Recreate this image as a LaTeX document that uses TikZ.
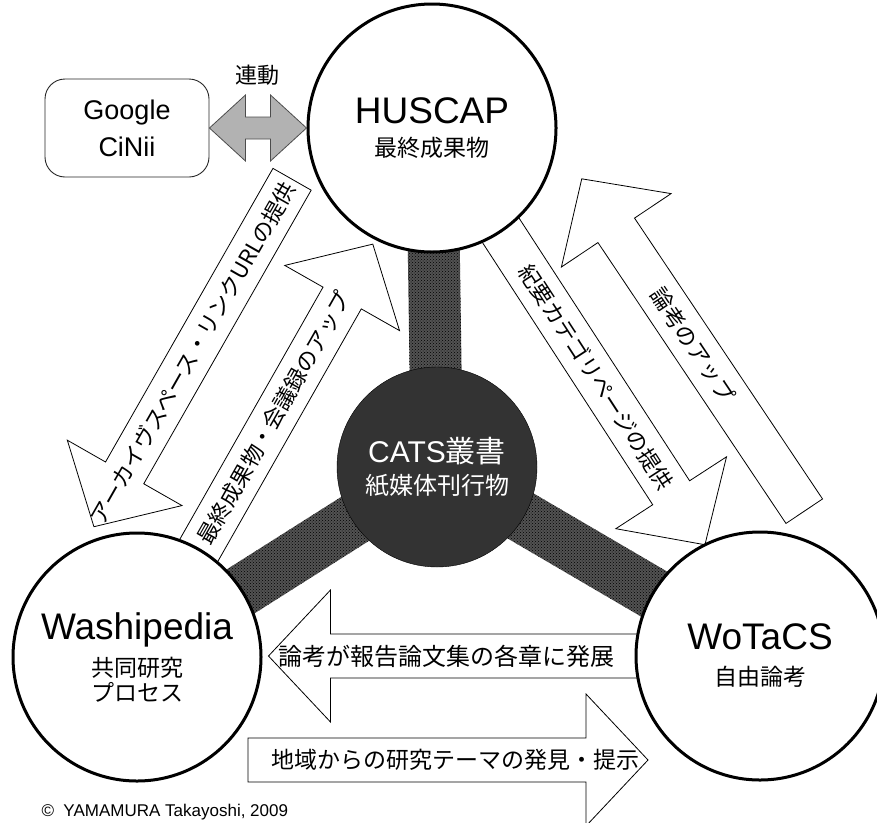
\documentclass[tikz,border=0pt]{standalone}
\usepackage{fontspec}
\setmainfont{Noto Sans CJK JP}
\newfontfamily\lat{Liberation Sans}
\usetikzlibrary{positioning, calc, patterns, backgrounds}

\newcommand{\headtxt}[1]{{\lat\fontsize{37}{40}\selectfont #1}}
\newcommand{\coretxt}[1]{{\fontsize{30}{32}\selectfont #1}}

\begin{document}
\begin{tikzpicture}
[
    x=1pt, y=-1pt,
    % all coordinates are pixels of the page, y running downwards
    hub/.style  = {circle, draw, line width=3pt, fill=white, minimum size=248pt,
                   inner sep=0pt, align=center, font=\fontsize{23}{25}\selectfont},
    core/.style = {circle, draw, thin, fill=black!80, text=white, minimum size=200pt,
                   inner sep=0pt, align=center, font=\fontsize{24}{32}\selectfont},
    ext/.style  = {draw=black!85, line width=0.9pt, rounded corners=20pt, minimum width=164pt,
                   minimum height=98pt, align=center, font=\lat\fontsize{27}{37}\selectfont},
    link/.style = {draw=black!70, fill=black!30, line width=0.8pt},
    bar/.style  = {preaction={fill=black!68}, pattern=crosshatch dots, pattern color=black},
    blk/.style  = {draw, fill=white, line width=0.8pt}
]
\useasboundingbox (0,0) rectangle (877,822);

%=================================== Nodes ===================================
\node[hub]  (hus)    at (432,128) {\headtxt{HUSCAP}\\[8pt]最終成果物};
\node[hub]  (washi)  at (137,657) {\headtxt{Washipedia}\\[9pt]共同研究\\プロセス};
\node[hub]  (wotacs) at (760,656) {\headtxt{WoTaCS}\\[11pt]自由論考};
\node[core] (cats)   at (437,467) {\coretxt{\lat CATS}\coretxt{叢書}\\紙媒体刊行物};
\node[ext]  (gc)     at (127,128) {Google\\CiNii};

% the grey double arrow between the search services and HUSCAP
\draw[link] (gc.east) -- ++(36,-33) -- ++(0,22) -- ($(hus.west)+(-36,-11)$) -- ++(0,-22)
    -- (hus.west) -- ++(-36,33) -- ++(0,-22) -- ($(gc.east)+(36,11)$) -- ++(0,22) -- cycle;
\node (sync) at (257,75) {\fontsize{22}{24}\selectfont 連動};

\node[anchor=west, font=\lat\fontsize{17}{20}\selectfont] (copy) at (38,812)
    {©\ \ YAMAMURA Takayoshi, 2009};

%================================ Background =================================
\begin{scope}[on background layer]
    % hatched spokes from the centre to each hub
    \foreach \t in {hus, washi, wotacs}
        \fill[bar] ($(cats.center)!26pt!90:(\t.center)$) -- ($(\t.center)!26pt!-90:(cats.center)$)
            -- ($(\t.center)!26pt!90:(cats.center)$) -- ($(cats.center)!26pt!-90:(\t.center)$) -- cycle;

    % block arrows: centre x / centre y / angle / length / tip side / text shift / size / text
    \foreach \x/\y/\a/\l/\d/\s/\f/\t [count=\i] in {
        193/353/60.3/400/-1/0/22/アーカイヴスペース・リンクURLの提供,
        274/418/60.4/400/1/0/22/最終成果物・会議録のアップ,
        596/377/-57/400/1/0/22/紀要カテゴリページの提供,
        693/345/-56.2/400/-1/0/22/論考のアップ,
        484/656/0/431/-1/-38/24/論考が報告論文集の各章に発展,
        448/760/0/400/1/7/23/地域からの研究テーマの発見・提示}
    {
        \begin{scope}[shift={(\x,\y)}, rotate=\a]
            \draw[blk] ({-\d*\l/2},-22) -- ({\d*(\l/2-62)},-22) -- ({\d*(\l/2-62)},-66)
                -- ({\d*\l/2},0) -- ({\d*(\l/2-62)},66) -- ({\d*(\l/2-62)},22)
                -- ({-\d*\l/2},22) -- cycle;
            \node[transform shape, font=\fontsize{\f}{\f}\selectfont] (ar-\i) at (\s,0) {\t};
        \end{scope}
    }
\end{scope}
%==================================== END ====================================

\end{tikzpicture}
\end{document}
